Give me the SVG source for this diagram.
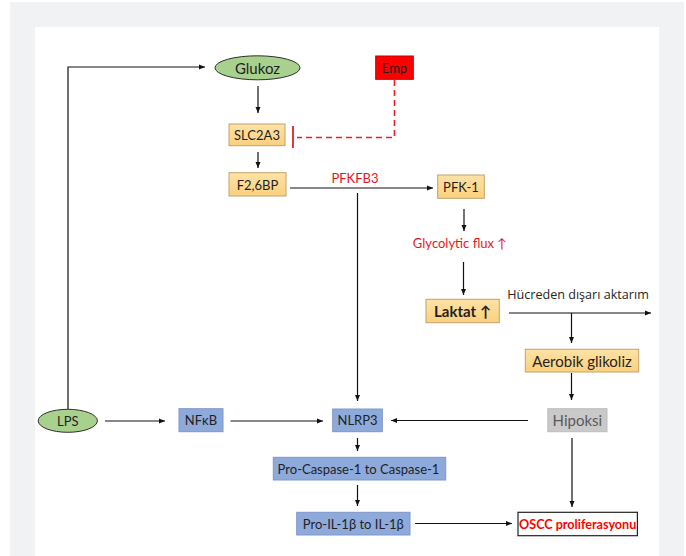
<svg xmlns="http://www.w3.org/2000/svg" width="686" height="556" viewBox="0 0 686 556">
<style>
.t{font-family:Lato,"Open Sans","Liberation Sans",sans-serif;font-size:13px;fill:#1f1f1f;text-anchor:middle;dominant-baseline:central}
.org{fill:url(#gOrg);stroke:#bfa46a;stroke-width:1}
.blu{fill:#8eaadb;stroke:#7f97c9;stroke-width:1}
.grn{fill:#a9d18e;stroke:#2f2f2f;stroke-width:1}
.c{fill:none;stroke:#111;stroke-width:1.2}
.red{fill:#e8141b}
</style>
<defs>
<linearGradient id="gOrg" x1="0" y1="0" x2="0" y2="1">
<stop offset="0" stop-color="#ffe2a6"/>
<stop offset="1" stop-color="#fbd07e"/>
</linearGradient>
<marker id="ah" markerUnits="userSpaceOnUse" markerWidth="7" markerHeight="6" refX="6" refY="3" orient="auto">
<path d="M0,0.5 L6,3 L0,5.5 z" fill="#111"/>
</marker>
</defs>
<rect x="10" y="2" width="674" height="554" fill="#f1f2f4"/>
<rect x="35" y="27" width="624" height="529" fill="#ffffff"/>

<g id="connectors">
<path class="c" d="M68,409 V67 H205" marker-end="url(#ah)"/>
<path class="c" d="M258,86 V113" marker-end="url(#ah)"/>
<path d="M394.5,80 V137.5 H297" fill="none" stroke="#ee1c24" stroke-width="1.6" stroke-dasharray="6,4"/>
<path d="M293,126 V148" fill="none" stroke="#ee1c24" stroke-width="1.8"/>
<path class="c" d="M258,152 V168" marker-end="url(#ah)"/>
<path class="c" d="M290,188 H433" marker-end="url(#ah)"/>
<path class="c" d="M357.5,193 V401" marker-end="url(#ah)"/>
<path class="c" d="M464,209 V231" marker-end="url(#ah)"/>
<path class="c" d="M463.5,262 V295" marker-end="url(#ah)"/>
<path class="c" d="M509,313 H651" marker-end="url(#ah)"/>
<path class="c" d="M571.5,313 V343" marker-end="url(#ah)"/>
<path class="c" d="M571.5,373 V400" marker-end="url(#ah)"/>
<path class="c" d="M528,420.5 H391" marker-end="url(#ah)"/>
<path class="c" d="M572,438 V507" marker-end="url(#ah)"/>
<path class="c" d="M105,421 H165" marker-end="url(#ah)"/>
<path class="c" d="M230.5,421 H323" marker-end="url(#ah)"/>
<path class="c" d="M357.5,438 V451" marker-end="url(#ah)"/>
<path class="c" d="M357.5,485 V506" marker-end="url(#ah)"/>
<path class="c" d="M415,523.5 H512" marker-end="url(#ah)"/>
</g>

<g id="glukoz"><ellipse class="grn" cx="257.5" cy="67.8" rx="42.5" ry="12"/><text class="t" x="257.5" y="68" style="font-size:15px">Glukoz</text></g>
<g id="emp"><rect x="375.7" y="56" width="37.6" height="23.3" fill="#ff0000" stroke="#c00000"/><text class="t" x="394.5" y="68">Emp</text></g>
<g id="slc2a3"><rect class="org" x="229" y="124" width="56" height="21.7"/><text class="t" x="257" y="135">SLC2A3</text></g>
<g id="f26bp"><rect class="org" x="229" y="172.7" width="57" height="23.3"/><text class="t" x="257.5" y="184.5">F2,6BP</text></g>
<text class="t red" x="355" y="178">PFKFB3</text>
<g id="pfk1"><rect class="org" x="437.7" y="175" width="46.6" height="23.3"/><text class="t" x="461" y="186.7">PFK-1</text></g>
<text class="t red" x="460" y="242.5">Glycolytic flux ↑</text>
<g id="laktat"><rect class="org" x="426" y="299.3" width="73.3" height="23.4"/><text class="t" x="462.5" y="311" style="font-size:15px;font-weight:bold">Laktat  ↑</text></g>
<text class="t" x="578" y="294" style="font-family:'Open Sans','Liberation Sans',sans-serif;font-size:12.6px;fill:#262626">Hücreden dışarı aktarım</text>
<g id="aerobik"><rect class="org" x="525.3" y="349.3" width="113.4" height="22.7"/><text class="t" x="582" y="360.7" style="font-size:15px">Aerobik glikoliz</text></g>
<g id="hipoksi"><rect x="547.8" y="408.7" width="59.2" height="23" fill="#c9c9c9" stroke="#bdbdbd"/><text class="t" x="577.4" y="420.2" style="font-size:15px;fill:#595959">Hipoksi</text></g>
<g id="lps"><ellipse class="grn" cx="67.8" cy="420.8" rx="29.6" ry="11.5"/><text class="t" x="67.8" y="421">LPS</text></g>
<g id="nfkb"><rect class="blu" x="179" y="408.7" width="44" height="23"/><text class="t" x="201" y="420.2">NFκB</text></g>
<g id="nlrp3"><rect class="blu" x="332.7" y="409" width="49.6" height="22.7"/><text class="t" x="357.5" y="420.3">NLRP3</text></g>
<g id="procaspase"><rect class="blu" x="273.3" y="457.3" width="172.4" height="22.7"/><text class="t" x="358.5" y="468.7">Pro-Caspase-1 to Caspase-1</text></g>
<g id="proil"><rect class="blu" x="296.7" y="512.3" width="113.3" height="22.7"/><text class="t" x="353.3" y="523.7">Pro-IL-1β to IL-1β</text></g>
<g id="oscc"><rect x="518" y="512.3" width="119.4" height="23.4" fill="#ffffff" stroke="#222" stroke-width="1.2"/><text class="t" x="577.7" y="524" style="font-size:12.6px;font-weight:bold;fill:#ff0000">OSCC proliferasyonu</text></g>
</svg>
